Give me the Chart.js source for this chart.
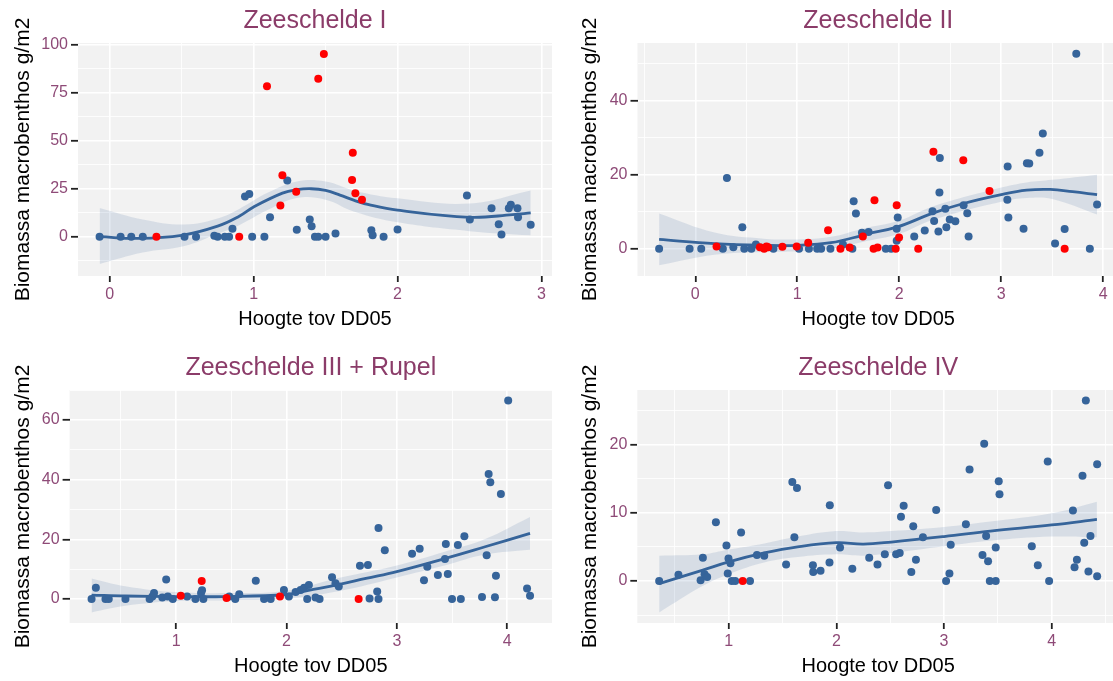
<!DOCTYPE html>
<html>
<head>
<meta charset="utf-8">
<script src="https://cdn.jsdelivr.net/npm/chart.js@4.4.1/dist/chart.umd.min.js"></script>
<style>
  html, body { margin: 0; padding: 0; background: #fff; overflow: hidden; }
  body { position: relative; width: 1113px; height: 681px; }
  canvas { position: absolute; }
</style>
</head>
<body>
<canvas id="p1" width="556" height="334" style="left:0;top:0"></canvas>
<canvas id="p2" width="556" height="334" style="left:567px;top:0"></canvas>
<canvas id="p3" width="556" height="334" style="left:0;top:347px"></canvas>
<canvas id="p4" width="556" height="334" style="left:567px;top:347px"></canvas>
<script>
// Zeeschelde I
const blueX1 = [-0.07, 0.076, 0.15, 0.23, 0.52, 0.6, 0.727, 0.75, 0.8, 0.83, 0.853, 0.94, 0.97, 0.99, 1.075, 1.114, 1.234, 1.3, 1.39, 1.403, 1.426, 1.449, 1.5, 1.569, 1.818, 1.827, 1.903, 2.0, 2.482, 2.502, 2.653, 2.703, 2.722, 2.773, 2.787, 2.833, 2.837, 2.925];
const blueY1 = [0, 0, 0, 0, 0, 0, 0.5, 0, 0, 0, 4.1, 21, 22.2, 0, 0, 10.1, 29.3, 3.6, 9, 5.5, 0, 0, 0, 1.7, 3.4, 0.7, 0, 3.8, 21.5, 9, 14.8, 6.5, 1.2, 14.8, 16.7, 14.8, 10.1, 6.2];
const redX1 = [0.325, 0.9, 1.093, 1.186, 1.2, 1.296, 1.449, 1.488, 1.684, 1.689, 1.707, 1.753];
const redY1 = [0, 0, 78.4, 16.2, 32, 23.4, 82.3, 95.2, 29.5, 43.8, 22.6, 19.3];
const fitX1 = [-0.07, 0.2, 0.5, 0.75, 0.9, 1.0, 1.2, 1.3, 1.4, 1.5, 1.6, 1.7, 1.8, 2.0, 2.5, 2.8, 2.925];
const fitY1 = [0, -0.9, 0.7, 5.5, 10.7, 15.5, 22.7, 24.5, 25, 24.1, 21.7, 18.9, 16.7, 13.8, 10.1, 11.5, 12.4];
const bandX1 = [-0.07, 0.23, 0.52, 0.75, 0.9, 1.1, 1.3, 1.5, 1.7, 2.0, 2.5, 2.925];
const bandLo1 = [-14.3, -8.3, -4.9, 1.5, 6, 14, 20.2, 19.3, 13, 7.5, 2.9, 0.7];
const bandHi1 = [15, 9, 6.4, 9.5, 14.5, 23, 28.8, 28.8, 24, 20, 17.3, 24.1];
const xMajor1 = [0, 1, 2, 3];
const xMinor1 = [0.5, 1.5, 2.5];
const yMajor1 = [0, 25, 50, 75, 100];
const yMinor1 = [-12.5, 12.5, 37.5, 62.5, 87.5];

// Zeeschelde II
const blueX2 = [-0.355, -0.056, 0.058, 0.27, 0.31, 0.373, 0.461, 0.48, 0.55, 0.594, 0.766, 1.017, 1.114, 1.195, 1.234, 1.325, 1.448, 1.54, 1.553, 1.575, 1.634, 1.699, 1.868, 1.92, 1.975, 1.985, 1.975, 2.147, 2.25, 2.326, 2.342, 2.398, 2.394, 2.384, 2.452, 2.462, 2.495, 2.55, 2.631, 2.667, 2.68, 3.063, 3.06, 3.07, 3.219, 3.252, 3.275, 3.375, 3.408, 3.528, 3.622, 3.736, 3.869, 3.94];
const blueY2 = [0, 0, 0, 0, 19.1, 0.4, 5.8, 0, 0, 1.1, 0, 0, 0, 0, 0, 0, 1.1, 0, 12.8, 9.5, 4.3, 4.5, 0, 0, 2.1, 8.4, 5.4, 3.3, 4.9, 10.1, 7.5, 24.5, 15.2, 4.6, 10.8, 5.8, 7.9, 7.4, 11.7, 9.6, 3.3, 22.2, 13.2, 8.4, 5.4, 23.1, 23, 25.9, 31.1, 1.4, 5.3, 52.7, 0, 11.9];
const redX2 = [0.208, 0.633, 0.675, 0.698, 0.714, 0.854, 0.994, 1.107, 1.302, 1.423, 1.514, 1.643, 1.757, 1.748, 1.787, 1.965, 1.998, 1.975, 2.186, 2.335, 2.628, 2.885, 3.622];
const redY2 = [0.6, 0.4, 0, 0.6, 0.4, 0.5, 0.6, 1.6, 5, 0, 0.3, 3.3, 13.1, 0, 0.3, 0, 3, 11.7, 0, 26.2, 23.9, 15.6, 0];
const fitX2 = [-0.355, 0.19, 0.67, 1.0, 1.33, 1.64, 1.7, 1.975, 2.33, 2.63, 3.0, 3.25, 3.48, 3.7, 3.94];
const fitY2 = [2.5, 1.35, 0.9, 0.9, 1.6, 3.6, 4.1, 5.8, 9.6, 12.2, 14.6, 15.8, 16, 15.4, 14.6];
const bandX2 = [-0.355, 0.19, 0.67, 1.0, 1.33, 1.64, 2.0, 2.33, 3.0, 3.25, 3.5, 3.94];
const bandLo2 = [-4.5, -1.65, -0.9, -0.7, 0, 1.8, 4.0, 7.8, 12.7, 13.7, 13.4, 9.2];
const bandHi2 = [9.5, 4.35, 2.7, 2.5, 3.2, 5.4, 7.6, 11.4, 16.5, 17.9, 18.6, 20];
const xMajor2 = [0, 1, 2, 3, 4];
const xMinor2 = [-0.5, 0.5, 1.5, 2.5, 3.5];
const yMajor2 = [0, 20, 40];
const yMinor2 = [10, 30, 50];

// Zeeschelde III + Rupel
const blueX3 = [0.234, 0.273, 0.36, 0.39, 0.541, 0.76, 0.785, 0.8, 0.875, 0.91, 0.925, 0.97, 1.1, 1.175, 1.226, 1.235, 1.247, 1.482, 1.536, 1.572, 1.722, 1.797, 1.857, 1.977, 2.022, 2.083, 2.128, 2.16, 2.188, 2.203, 2.263, 2.3, 2.413, 2.444, 2.474, 2.666, 2.738, 2.753, 2.822, 2.834, 2.834, 2.891, 3.138, 3.207, 3.246, 3.276, 3.372, 3.436, 3.444, 3.462, 3.5, 3.58, 3.553, 3.612, 3.772, 3.814, 3.832, 3.847, 3.889, 3.898, 3.943, 4.009, 4.18, 4.207];
const blueY3 = [0, 3.8, 0, 0, 0, 0, 0.8, 2, 0.5, 6.5, 0.8, 0, 0.8, 0, 2, 2.9, 0, 0.8, 0, 1.6, 6.1, 0, 0, 3, 0.8, 2.3, 3, 3.8, 0, 4.7, 0.5, 0, 7.3, 5.3, 4.2, 11.1, 11.4, 0.2, 2.5, 0, 23.8, 16.3, 15.2, 16.8, 6.3, 10.8, 8, 13.4, 18.4, 8.4, 0, 0, 18.1, 21, 0.7, 14.7, 41.9, 39.1, 0.6, 7.8, 35.2, 66.5, 3.5, 1.1];
const redX3 = [1.042, 1.232, 1.457, 1.941, 2.654];
const redY3 = [1.1, 6, 0.3, 0.8, 0];
const fitX3 = [0.234, 0.54, 1.0, 1.45, 2.0, 2.2, 2.47, 2.72, 3.0, 3.44, 3.8, 4.207];
const fitY3 = [1.3, 1.0, 0.8, 0.8, 1.5, 2.9, 4.8, 6.9, 9.2, 13.6, 17.5, 22];
const bandX3 = [0.234, 0.54, 1.0, 1.45, 2.0, 2.47, 3.0, 3.44, 3.8, 4.207];
const bandLo3 = [-4.5, -2.3, -0.7, -0.4, 0.2, 2.6, 7.2, 11.3, 14.9, 16.5];
const bandHi3 = [6.9, 4.3, 2.3, 2.0, 2.8, 7.0, 11.2, 15.9, 20.1, 27.5];
const xMajor3 = [1, 2, 3, 4];
const xMinor3 = [0.5, 1.5, 2.5, 3.5];
const yMajor3 = [0, 20, 40, 60];
const yMinor3 = [10, 30, 50, 70];

// Zeeschelde IV
const blueX4 = [0.354, 0.533, 0.739, 0.76, 0.776, 0.8, 0.881, 0.979, 0.991, 0.998, 1.016, 1.028, 1.06, 1.115, 1.198, 1.262, 1.33, 1.533, 1.591, 1.634, 1.61, 1.782, 1.785, 1.853, 1.936, 1.939, 2.034, 2.148, 2.305, 2.382, 2.45, 2.48, 2.555, 2.588, 2.6, 2.625, 2.696, 2.714, 2.739, 2.804, 2.927, 3.019, 3.05, 3.062, 3.203, 3.237, 3.357, 3.373, 3.391, 3.409, 3.425, 3.48, 3.48, 3.508, 3.515, 3.815, 3.871, 3.963, 3.976, 4.197, 4.212, 4.234, 4.286, 4.302, 4.317, 4.341, 4.36, 4.422, 4.422];
const blueY4 = [0, 0.9, 0.1, 3.4, 1.0, 0.6, 8.6, 5.2, 1.1, 3.3, 2.6, 0, 0, 7.1, 0, 3.8, 3.7, 2.4, 14.5, 13.6, 6.4, 2.3, 1.3, 1.5, 2.7, 11.1, 4.9, 1.8, 3.4, 2.4, 3.9, 14, 3.9, 4.1, 9.4, 11, 1.3, 8.0, 3.1, 6.4, 10.4, 0, 1.1, 5.3, 8.3, 16.3, 3.8, 20.1, 6.6, 2.9, 0, 0, 4.9, 14.6, 12.7, 5.1, 2.3, 17.5, 0, 10.3, 2.0, 3.1, 15.4, 5.6, 26.4, 1.4, 6.6, 17.1, 0.7];
const redX4 = [1.13];
const redY4 = [0];
const fitX4 = [0.354, 0.76, 1.0, 1.33, 1.64, 2.0, 2.25, 2.51, 3.0, 3.43, 4.0, 4.42];
const fitY4 = [-0.4, 1.6, 2.8, 4.1, 5.0, 5.6, 5.4, 5.7, 6.5, 7.3, 8.2, 9.0];
const bandX4 = [0.354, 0.76, 1.0, 1.33, 1.64, 2.0, 2.25, 2.51, 3.0, 3.43, 4.0, 4.42];
const bandLo4 = [-4.6, -0.7, 1.0, 2.7, 3.5, 3.9, 3.7, 4.1, 5.1, 5.9, 6.5, 6.4];
const bandHi4 = [3.7, 3.9, 4.6, 5.5, 6.5, 7.3, 7.1, 7.3, 7.9, 8.7, 9.9, 11.6];
const xMajor4 = [1, 2, 3, 4];
const xMinor4 = [0.5, 1.5, 2.5, 3.5, 4.5];
const yMajor4 = [0, 10, 20];
const yMinor4 = [-5, 5, 15, 25];

const BLUE = '#36649a';
const RED = '#ff0000';
const BAND = 'rgba(54,100,154,0.14)';
const TITLE_COL = '#8b3c69';
const TICK_COL = '#8e4a77';

Chart.defaults.font.family = "'Liberation Sans', Arial, sans-serif";

// grey panel background like ggplot
const panelBg = {
    id: 'panelBg',
    beforeDraw(chart) {
        const a = chart.chartArea;
        const ctx = chart.ctx;
        ctx.save();
        ctx.fillStyle = '#f2f2f2';
        ctx.fillRect(a.left, a.top, a.right - a.left, a.bottom - a.top);
        ctx.restore();
    }
};

function pts(xs, ys) {
    return xs.map((x, i) => ({ x: x, y: ys[i] }));
}

function isMajor(majors, c) {
    return c.tick && majors.includes(c.tick.value);
}

function scale(min, max, majors, minors, tickLen) {
    return {
        type: 'linear',
        min: min,
        max: max,
        afterBuildTicks: s => {
            s.ticks = majors.concat(minors).sort((a, b) => a - b).map(v => ({ value: v }));
        },
        border: { display: false },
        grid: {
            color: '#ffffff',
            lineWidth: c => isMajor(majors, c) ? 1.6 : 0.8,
            tickColor: c => isMajor(majors, c) ? '#222222' : 'rgba(0,0,0,0)',
            tickWidth: 1.8,
            tickLength: tickLen
        },
        ticks: {
            color: TICK_COL,
            font: { size: 16 },
            padding: 3,
            autoSkip: false,
            maxRotation: 0,
            callback: v => majors.includes(v) ? String(v) : ''
        }
    };
}

const panels = [
    { id: 'p1', title: 'Zeeschelde I', xMin: -0.22, xMax: 3.073, yMin: -20.5, yMax: 101, yAxisW: 78, padRight: 2,
      blueX: blueX1, blueY: blueY1, redX: redX1, redY: redY1, fitX: fitX1, fitY: fitY1,
      bandX: bandX1, bandLo: bandLo1, bandHi: bandHi1, xMajor: xMajor1, xMinor: xMinor1, yMajor: yMajor1, yMinor: yMinor1 },
    { id: 'p2', title: 'Zeeschelde II', xMin: -0.567, xMax: 4.155, yMin: -7.4, yMax: 55.6, yAxisW: 70.5, padRight: 1,
      blueX: blueX2, blueY: blueY2, redX: redX2, redY: redY2, fitX: fitX2, fitY: fitY2,
      bandX: bandX2, bandLo: bandLo2, bandHi: bandHi2, xMajor: xMajor2, xMinor: xMinor2, yMajor: yMajor2, yMinor: yMinor2 },
    { id: 'p3', title: 'Zeeschelde III + Rupel', xMin: 0.035, xMax: 4.406, yMin: -8.05, yMax: 70.05, yAxisW: 69.6, padRight: 2,
      blueX: blueX3, blueY: blueY3, redX: redX3, redY: redY3, fitX: fitX3, fitY: fitY3,
      bandX: bandX3, bandLo: bandLo3, bandHi: bandHi3, xMajor: xMajor3, xMinor: xMinor3, yMajor: yMajor3, yMinor: yMinor3 },
    { id: 'p4', title: 'Zeeschelde IV', xMin: 0.151, xMax: 4.625, yMin: -6.15, yMax: 27.95, yAxisW: 70.3, padRight: 1,
      blueX: blueX4, blueY: blueY4, redX: redX4, redY: redY4, fitX: fitX4, fitY: fitY4,
      bandX: bandX4, bandLo: bandLo4, bandHi: bandHi4, xMajor: xMajor4, xMinor: xMinor4, yMajor: yMajor4, yMinor: yMinor4 }
];

panels.forEach(p => {
    const xScale = scale(p.xMin, p.xMax, p.xMajor, p.xMinor, 6);
    xScale.afterFit = s => { s.height = 58; };
    xScale.title = { display: true, text: 'Hoogte tov DD05', color: '#000', font: { size: 20 }, padding: { top: 0, bottom: 3 } };

    const yScale = scale(p.yMin, p.yMax, p.yMajor, p.yMinor, 7);
    yScale.afterFit = s => { s.width = p.yAxisW; };
    yScale.title = { display: true, text: 'Biomassa macrobenthos g/m2', color: '#000', font: { size: 21 }, padding: { top: 11, bottom: 0 } };

    new Chart(document.getElementById(p.id), {
        type: 'scatter',
        data: {
            datasets: [
                { data: pts(p.redX, p.redY), backgroundColor: RED, borderWidth: 0, pointRadius: 4 },
                { data: pts(p.blueX, p.blueY), backgroundColor: BLUE, borderWidth: 0, pointRadius: 4 },
                { type: 'line', data: pts(p.fitX, p.fitY), borderColor: BLUE, borderWidth: 2.8, pointRadius: 0, tension: 0.4, fill: false },
                { type: 'line', data: pts(p.bandX, p.bandHi), borderColor: 'rgba(0,0,0,0)', backgroundColor: BAND, pointRadius: 0, tension: 0.4, fill: '+1' },
                { type: 'line', data: pts(p.bandX, p.bandLo), borderColor: 'rgba(0,0,0,0)', pointRadius: 0, tension: 0.4, fill: false }
            ]
        },
        options: {
            responsive: false,
            animation: false,
            devicePixelRatio: 1,
            layout: { padding: { right: p.padRight } },
            plugins: {
                legend: { display: false },
                tooltip: { enabled: false },
                title: {
                    display: true,
                    text: p.title,
                    fullSize: false,
                    color: TITLE_COL,
                    font: { size: 25, weight: 'normal' },
                    padding: { top: 6, bottom: 7 }
                }
            },
            scales: { x: xScale, y: yScale }
        },
        plugins: [panelBg]
    });
});
</script>
</body>
</html>
